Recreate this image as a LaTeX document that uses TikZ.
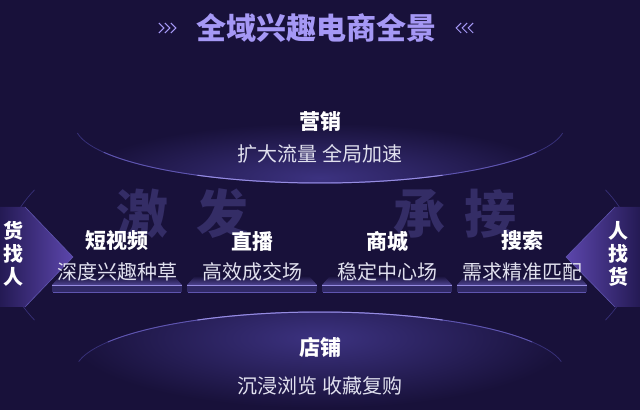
\documentclass[tikz,border=0pt]{standalone}
\usepackage{fontspec}
\setmainfont{Noto Sans CJK SC}
\usepackage{tikz}

\definecolor{bgnavy}{RGB}{24,17,58}
\definecolor{lavender}{RGB}{165,152,245}
\definecolor{ghost}{RGB}{52,45,102}
\definecolor{rimdim}{RGB}{55,48,120}
\definecolor{rimmid}{RGB}{95,85,175}
\definecolor{rimlit}{RGB}{150,140,225}
\definecolor{glow}{RGB}{60,50,128}
\definecolor{slab}{RGB}{78,68,145}
\definecolor{slabfront}{RGB}{48,41,102}
\definecolor{subgray}{RGB}{224,224,238}
\definecolor{wingdark}{RGB}{36,26,84}
\definecolor{winglit}{RGB}{92,70,172}

\begin{document}
\begin{tikzpicture}[
            x = 1pt, y = 1pt, % one unit is one pixel
            node distance = 135pt, % distance between columns
            head/.style = {text=white, inner sep=0pt, font=\bfseries\fontsize{21}{21}\selectfont},
            sub/.style = {text=subgray, inner sep=0pt, font=\fontsize{20}{20}\selectfont},
            ghosttext/.style = {text=ghost, inner sep=0pt, font=\bfseries\fontsize{52}{52}\selectfont},
            side/.style = {text=white, inner sep=0pt, align=center, font=\bfseries\fontsize{20}{23}\selectfont}
        ]

	\useasboundingbox (0,0) rectangle (640,410);
	\fill[bgnavy] (0,0) rectangle (640,410);

	% faint outer ring
	\draw[rimdim, line width=0.7pt] (320,155) ++(155:315 and 154) arc (155:205:315 and 154);
	\draw[rimdim, line width=0.7pt] (320,155) ++(-25:315 and 154) arc (-25:25:315 and 154);

	% top lens
	\begin{scope}
		\clip (75,285) arc (180:360:245 and 58) -- cycle;
		\shade[inner color=glow, outer color=bgnavy] (320,232) ellipse (240 and 55);
	\end{scope}
	\draw[rimdim, line width=0.8pt] (320,285) ++(188:245 and 58) arc (188:352:245 and 58);
	\draw[rimmid, line width=0.9pt] (320,285) ++(208:245 and 58) arc (208:332:245 and 58);
	\draw[rimlit, line width=1pt] (320,285) ++(240:245 and 58) arc (240:300:245 and 58);

	% bottom lens
	\begin{scope}
		\clip (75,38) arc (180:0:245 and 60) -- (565,0) -- (75,0) -- cycle;
		\shade[inner color=glow, outer color=bgnavy] (320,72) ellipse (250 and 70);
	\end{scope}
	\draw[rimdim, line width=0.8pt] (320,38) ++(10:245 and 60) arc (10:170:245 and 60);
	\draw[rimmid, line width=0.9pt] (320,38) ++(30:245 and 60) arc (30:150:245 and 60);
	\draw[rimlit, line width=1pt] (320,38) ++(60:245 and 60) arc (60:120:245 and 60);

	% title
	\node[text=lavender, inner sep=0pt, font=\bfseries\fontsize{30}{30}\selectfont] (title) at (316,382) {全域兴趣电商全景};
	\foreach \i in {0,1,2} {
		\draw[lavender, line width=1pt] ([xshift=-37pt+6*\i pt, yshift=5pt]title.west) -- ++(5,-5) -- ++(-5,-5);
		\draw[lavender, line width=1pt] ([xshift=37pt-6*\i pt, yshift=5pt]title.east) -- ++(-5,-5) -- ++(5,-5);
	}

	% big faded words
	\node[ghosttext] (ji) at (142,196) {激};
	\node[ghosttext] (fa) at (222,196) {发};
	\node[ghosttext] (cheng) at (419,196) {承};
	\node[ghosttext] (jie) at (490,196) {接};

	% side wings
	\shade[left color=wingdark, right color=winglit] (0,203) -- (25,203) -- (73,153) -- (25,103) -- (0,103) -- cycle;
	\draw[rimmid, line width=0.6pt] (25,203) -- (73,153) -- (25,103);
	\shade[right color=wingdark, left color=winglit] (640,203) -- (615,203) -- (566,153) -- (615,103) -- (640,103) -- cycle;
	\draw[rimmid, line width=0.6pt] (615,203) -- (566,153) -- (615,103);
	\node[side] (push) at (14,156) {货\\找\\人};
	\node[side] (pull) at (618,156) {人\\找\\货};

	% columns
	\node[head] (v1) at (117,169) {短视频};
	\node[head] (v2) [right of=v1] {直播};
	\node[head] (v3) [right of=v2] {商城};
	\node[head] (v4) [right of=v3] {搜索};

	\foreach \n in {v1,v2,v3,v4} {
		\begin{scope}[shift={(\n)}]
			\shade[top color=bgnavy, bottom color=slab] (-57,-35) -- (57,-35) -- (65,-44) -- (-65,-44) -- cycle;
			\fill[slabfront] (-65,-44) rectangle (65,-51);
			\draw[rimlit, line width=0.8pt] (-65,-44) -- (65,-44);
			\draw[rimmid, line width=0.8pt] (-64,-51) -- (64,-51);
		\end{scope}
	}

	\node[sub] (s1) [below of=v1, node distance=31pt] {深度兴趣种草};
	\node[sub] (s2) [below of=v2, node distance=31pt] {高效成交场};
	\node[sub] (s3) [below of=v3, node distance=31pt] {稳定中心场};
	\node[sub] (s4) [below of=v4, node distance=31pt] {需求精准匹配};

	% top and bottom
	\node[head] (mkt) at (320,288) {营销};
	\node[sub] (mktsub) at (320,256) {扩大流量 全局加速};
	\node[head] (shop) at (320,63) {店铺};
	\node[sub] (shopsub) at (320,24) {沉浸浏览 收藏复购};

\end{tikzpicture}
\end{document}
